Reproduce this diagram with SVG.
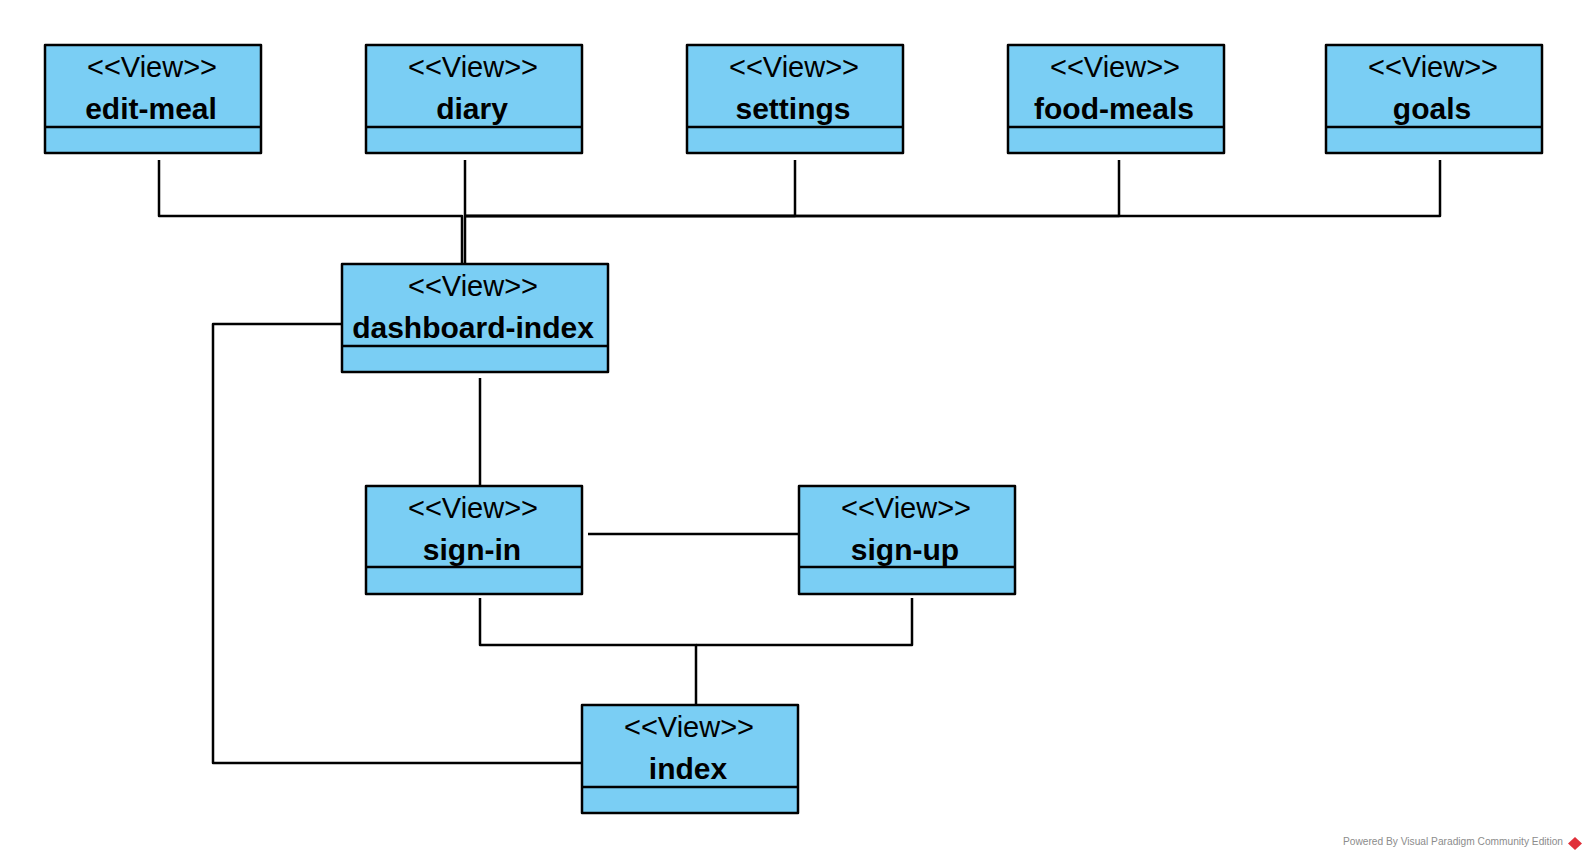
<svg xmlns="http://www.w3.org/2000/svg" width="1587" height="858" viewBox="0 0 1587 858">
<style>
.box{fill:#7acef4;stroke:#000;stroke-width:2.5;stroke-linejoin:round}
.div{stroke:#000;stroke-width:2.5}
.st{font-family:"Liberation Sans",Arial,sans-serif;font-size:29px;text-anchor:middle;fill:#000}
.nm{font-family:"Liberation Sans",Arial,sans-serif;font-size:30px;font-weight:bold;text-anchor:middle;fill:#000}
.conn path{fill:none;stroke:#000;stroke-width:2.5;stroke-linejoin:round}
.wm{font-family:"Liberation Sans",Arial,sans-serif;font-size:10px;fill:#8c8c8c}
</style>
<rect width="1587" height="858" fill="#fff"/>
<g id="connectors" class="conn">
<path d="M159,160 V216 H462 V264"/>
<path d="M465,160 V264"/>
<path d="M795,160 V216 H465"/>
<path d="M1119,160 V216 H465"/>
<path d="M1440,160 V216 H465"/>
<path d="M480,378 V486"/>
<path d="M342,324 H213 V763 H582"/>
<path d="M588,534 H799"/>
<path d="M480,598 V645 H696 V705"/>
<path d="M912,598 V645 H696"/>
</g>
<g id="edit-meal">
<rect class="box" x="45" y="45" width="216" height="108"/>
<line class="div" x1="45" y1="127" x2="261" y2="127"/>
<text class="st" x="152" y="77">&lt;&lt;View&gt;&gt;</text>
<text class="nm" x="151" y="119">edit-meal</text>
</g>
<g id="diary">
<rect class="box" x="366" y="45" width="216" height="108"/>
<line class="div" x1="366" y1="127" x2="582" y2="127"/>
<text class="st" x="473" y="77">&lt;&lt;View&gt;&gt;</text>
<text class="nm" x="472" y="119">diary</text>
</g>
<g id="settings">
<rect class="box" x="687" y="45" width="216" height="108"/>
<line class="div" x1="687" y1="127" x2="903" y2="127"/>
<text class="st" x="794" y="77">&lt;&lt;View&gt;&gt;</text>
<text class="nm" x="793" y="119">settings</text>
</g>
<g id="food-meals">
<rect class="box" x="1008" y="45" width="216" height="108"/>
<line class="div" x1="1008" y1="127" x2="1224" y2="127"/>
<text class="st" x="1115" y="77">&lt;&lt;View&gt;&gt;</text>
<text class="nm" x="1114" y="119">food-meals</text>
</g>
<g id="goals">
<rect class="box" x="1326" y="45" width="216" height="108"/>
<line class="div" x1="1326" y1="127" x2="1542" y2="127"/>
<text class="st" x="1433" y="77">&lt;&lt;View&gt;&gt;</text>
<text class="nm" x="1432" y="119">goals</text>
</g>
<g id="dashboard-index">
<rect class="box" x="342" y="264" width="266" height="108"/>
<line class="div" x1="342" y1="346" x2="608" y2="346"/>
<text class="st" x="473" y="296">&lt;&lt;View&gt;&gt;</text>
<text class="nm" x="473" y="338">dashboard-index</text>
</g>
<g id="sign-in">
<rect class="box" x="366" y="486" width="216" height="108"/>
<line class="div" x1="366" y1="567" x2="582" y2="567"/>
<text class="st" x="473" y="518">&lt;&lt;View&gt;&gt;</text>
<text class="nm" x="472" y="560">sign-in</text>
</g>
<g id="sign-up">
<rect class="box" x="799" y="486" width="216" height="108"/>
<line class="div" x1="799" y1="567" x2="1015" y2="567"/>
<text class="st" x="906" y="518">&lt;&lt;View&gt;&gt;</text>
<text class="nm" x="905" y="560">sign-up</text>
</g>
<g id="index">
<rect class="box" x="582" y="705" width="216" height="108"/>
<line class="div" x1="582" y1="787" x2="798" y2="787"/>
<text class="st" x="689" y="737">&lt;&lt;View&gt;&gt;</text>
<text class="nm" x="688" y="779">index</text>
</g>
<g id="watermark">
<text class="wm" x="1343" y="845" textLength="220" lengthAdjust="spacingAndGlyphs">Powered By Visual Paradigm Community Edition</text>
<path d="M1575,837 L1582,843.5 L1575,850 L1568,843.5 Z" fill="#e0303a"/>
</g>
</svg>
